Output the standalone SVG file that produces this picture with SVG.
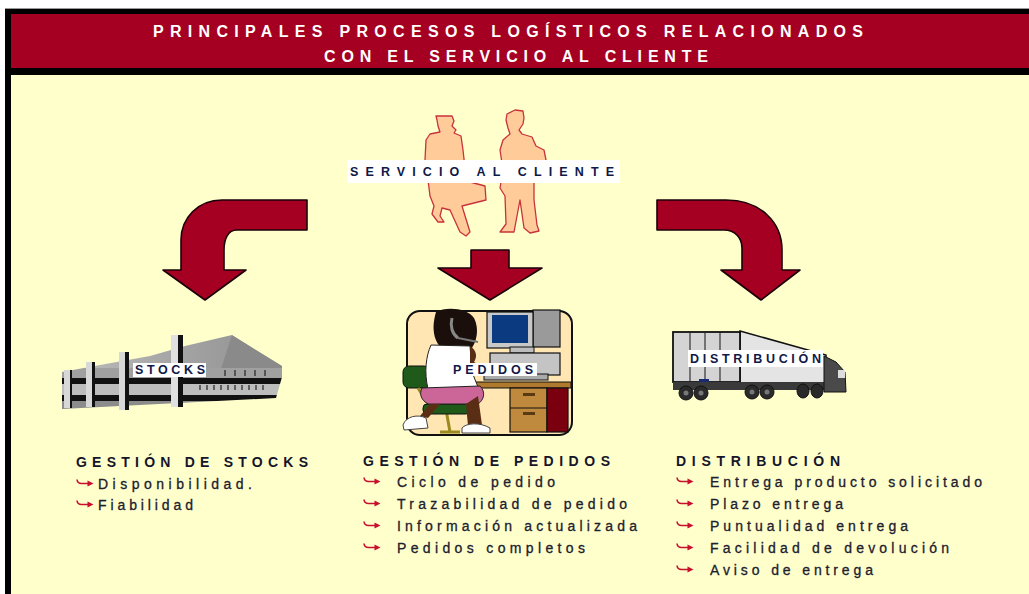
<svg xmlns="http://www.w3.org/2000/svg" xmlns:xlink="http://www.w3.org/1999/xlink" width="1029" height="594" viewBox="0 0 1029 594">
  <style>
    .hdr { font-family: "Liberation Sans Narrow", "Liberation Sans", Arial, sans-serif; font-weight: bold; font-size: 16px; fill: #ffffff; }
    .tag { font-family: "Liberation Sans", Arial, sans-serif; font-weight: bold; font-size: 12.5px; fill: #101848; }
    .ttl { font-family: "Liberation Sans", Arial, sans-serif; font-weight: bold; font-size: 14px; fill: #15152a; }
    .itm { font-family: "Liberation Sans", Arial, sans-serif; font-size: 14px; fill: #20202e; stroke: #20202e; stroke-width: 0.3; }
    .big-arrow { fill: #A50021; stroke: #1a0008; stroke-width: 1.6; stroke-linejoin: round; }
    .person { fill: #FFCC99; stroke: #C8323C; stroke-width: 1.3; stroke-linejoin: round; }
    .tagbox { fill: #ffffff; }
  </style>
  <defs>
    <!-- small red hooked bullet arrow -->
    <symbol id="hook" viewBox="0 0 18 9" width="18" height="9">
      <path d="M1,0.5 Q1.5,4.5 5.5,4.5 L12.5,4.5" fill="none" stroke="#C8102E" stroke-width="1.6"/>
      <polygon points="11.5,1.5 17.5,4.5 11.5,7.5" fill="#C8102E"/>
    </symbol>
    <clipPath id="bldClip">
      <polygon points="62,372 100,365 150,356 185,346 232,335 282,366 282,377 276,398 62,409"/>
    </clipPath>
    <linearGradient id="roofGrad" x1="0" y1="0" x2="1" y2="0">
      <stop offset="0" stop-color="#bdbdbd"/>
      <stop offset="1" stop-color="#8e8e8e"/>
    </linearGradient>
  </defs>

  <!-- frame -->
  <rect x="0" y="0" width="1029" height="594" fill="#ffffff"/>
  <line x1="5" y1="8.5" x2="1029" y2="8.5" stroke="#9a9a9a" stroke-width="1"/>
  <rect x="5" y="9" width="1024" height="585" fill="#000000"/>
  <rect x="11" y="14" width="1018" height="54" fill="#A50021"/>
  <rect x="11" y="75" width="1018" height="519" fill="#FFFFCC"/>

  <!-- header -->
  <g id="header">
    <text class="hdr" x="153" y="37" textLength="710" lengthAdjust="spacing">PRINCIPALES PROCESOS LOGÍSTICOS RELACIONADOS</text>
    <text class="hdr" x="324" y="62" textLength="384" lengthAdjust="spacing">CON EL SERVICIO AL CLIENTE</text>
  </g>

  <!-- customer service figures and label -->
  <g id="servicio-cliente">
    <path class="person" d="M436,116 L452,116 L454,121 L452,126 L456,130 L454,133 L461,136 L463,150 L465,168 L470,182 L485,186 L486,200 L462,206 L470,232 L466,236 L460,232 L450,210 L442,208 L440,216 L444,222 L438,222 L432,214 L434,206 L430,196 L428,180 L425,160 L426,140 L430,134 L440,132 L438,126 L437,120 Z"/>
    <path class="person" d="M507,114 L515,110 L523,111 L524,118 L523,124 L519,130 L522,134 L532,137 L536,146 L544,150 L546,160 L542,166 L537,166 L534,180 L534,200 L537,225 L539,231 L530,233 L524,228 L520,200 L514,232 L500,232 L506,224 L505,196 L500,188 L503,170 L500,150 L503,140 L510,134 L508,128 L506,120 Z"/>
    <rect class="tagbox" x="347" y="160" width="273" height="23"/>
    <text class="tag" x="350" y="176" textLength="264" lengthAdjust="spacing">SERVICIO AL CLIENTE</text>
  </g>

  <!-- connectors: the three red arrows -->
  <g id="connectors">
    <path class="big-arrow" d="M307,200 L222,200 C198,200 181,218 181,240 L181,270 L163,270 L205,300 L246,270 L224,270 L224,250 C224,239 228,230 237,230 L307,230 Z"/>
    <path class="big-arrow" d="M471,250 L509,250 L509,268 L542,268 L490,300 L438,268 L471,268 Z"/>
    <path class="big-arrow" d="M657,200 L726,200 C760,200 782,222 782,250 L782,270 L800,270 L761,300 L721,270 L742,270 L742,248 C742,238 735,230 724,230 L657,230 Z"/>
  </g>

  <!-- warehouse -->
  <g id="stocks">
    <g clip-path="url(#bldClip)">
      <rect x="60" y="330" width="225" height="38" fill="url(#roofGrad)"/>
      <polygon points="232,335 282,366 282,378 220,372" fill="#8a8a8a"/>
      <rect x="60" y="368" width="225" height="10" fill="#a0a0a0"/>
      <rect x="60" y="378" width="225" height="6" fill="#111111"/>
      <rect x="60" y="384" width="225" height="11" fill="#bdbdbd"/>
      <rect x="60" y="395" width="225" height="6" fill="#111111"/>
      <rect x="60" y="401" width="225" height="10" fill="#8c8c8c"/>
      <g stroke="#222" stroke-width="1.2">
        <line x1="200" y1="385" x2="200" y2="390"/><line x1="207" y1="385" x2="207" y2="390"/>
        <line x1="214" y1="385" x2="214" y2="390"/><line x1="221" y1="385" x2="221" y2="390"/>
        <line x1="228" y1="385" x2="228" y2="390"/><line x1="235" y1="385" x2="235" y2="390"/>
        <line x1="242" y1="385" x2="242" y2="390"/><line x1="249" y1="385" x2="249" y2="390"/>
        <line x1="256" y1="385" x2="256" y2="390"/><line x1="263" y1="385" x2="263" y2="390"/>
        <line x1="225" y1="370" x2="225" y2="376"/><line x1="235" y1="370" x2="235" y2="376"/>
        <line x1="245" y1="370" x2="245" y2="376"/><line x1="255" y1="370" x2="255" y2="376"/>
        <line x1="265" y1="370" x2="265" y2="376"/>
      </g>
    </g>
    <!-- pillars -->
    <rect x="64" y="370" width="6" height="38" fill="#d8d8d8"/><rect x="70" y="370" width="2" height="38" fill="#111"/>
    <rect x="86" y="362" width="6" height="45" fill="#d8d8d8"/><rect x="92" y="362" width="3" height="45" fill="#111"/>
    <rect x="119" y="352" width="6" height="58" fill="#d8d8d8"/><rect x="125" y="352" width="4" height="58" fill="#111"/>
    <rect x="171" y="335" width="7" height="72" fill="#e0e0e0"/><rect x="178" y="335" width="5" height="72" fill="#111"/>
    <rect class="tagbox" x="133" y="363" width="73" height="14"/>
    <text class="tag" x="135" y="374" textLength="70" lengthAdjust="spacing">STOCKS</text>
  </g>

  <!-- order desk -->
  <g id="pedidos">
    <rect x="407" y="311" width="165" height="124" rx="13" fill="#FFE6B3" stroke="#111" stroke-width="2"/>
    <!-- computer -->
    <rect x="533" y="310" width="27" height="37" fill="#9a9a9a" stroke="#111" stroke-width="1.2"/>
    <rect x="487" y="312" width="46" height="36" fill="#c8c8c8" stroke="#111" stroke-width="1.2"/>
    <rect x="492" y="315" width="36" height="28" fill="#0b3a80"/>
    <rect x="510" y="347" width="24" height="6" fill="#bdbdbd" stroke="#111" stroke-width="1"/>
    <rect x="490" y="353" width="70" height="22" fill="#c4c4c4" stroke="#111" stroke-width="1.2"/>
    <rect x="484" y="374" width="64" height="6" fill="#aaaaaa" stroke="#111" stroke-width="1"/>
    <!-- desk -->
    <rect x="468" y="382" width="103" height="6" fill="#B07A2E" stroke="#111" stroke-width="1"/>
    <rect x="510" y="388" width="37" height="44" fill="#C08A3E" stroke="#111" stroke-width="1.2"/>
    <line x1="510" y1="408" x2="547" y2="408" stroke="#111" stroke-width="1.2"/>
    <rect x="523" y="393" width="12" height="3" fill="#5a3a10"/>
    <rect x="523" y="412" width="12" height="3" fill="#5a3a10"/>
    <rect x="547" y="388" width="21" height="44" fill="#7a0010" stroke="#111" stroke-width="1.2"/>
    <!-- chair -->
    <rect x="403" y="366" width="27" height="22" rx="6" fill="#1f5a1a" stroke="#111" stroke-width="1"/>
    <path d="M418,388 L428,404 L445,404 L450,432 M440,432 L460,432" fill="none" stroke="#9a8a20" stroke-width="3"/>
    <rect x="423" y="404" width="47" height="10" rx="4" fill="#1f5a1a" stroke="#111" stroke-width="1"/>
    <!-- operator -->
    <path d="M436,312 C446,306 468,308 474,318 C480,330 476,344 470,350 L444,350 C436,345 430,332 436,312 Z" fill="#1a0f0a"/>
    <path d="M431,345 L470,346 L472,372 L478,387 L428,389 C424,372 426,356 431,345 Z" fill="#ffffff" stroke="#222" stroke-width="1"/>
    <path d="M470,346 C476,350 478,356 474,362 L488,370 L486,376 L470,370 Z" fill="#5a2e14"/>
    <path d="M422,388 L480,386 C486,392 484,400 478,404 L428,404 C421,400 419,394 422,388 Z" fill="#CC6699" stroke="#222" stroke-width="1"/>
    <path d="M478,396 L482,425 L468,426 L466,404 Z" fill="#5a2e14"/>
    <path d="M430,404 L440,404 L428,418 L420,416 Z" fill="#5a2e14"/>
    <path d="M403,425 C406,416 418,414 426,418 L428,428 L404,430 Z" fill="#ffffff" stroke="#444" stroke-width="1"/>
    <path d="M462,428 C466,423 480,422 490,428 L490,433 L462,433 Z" fill="#ffffff" stroke="#444" stroke-width="1"/>
    <path d="M452,318 C450,326 452,334 458,338" fill="none" stroke="#888" stroke-width="3"/>
    <path d="M458,338 L478,342" stroke="#777" stroke-width="2"/>
    <rect class="tagbox" x="450" y="363" width="87" height="13"/>
    <text class="tag" x="453" y="374" font-size="12" textLength="80" lengthAdjust="spacing">PEDIDOS</text>
  </g>

  <!-- truck -->
  <g id="distribucion">
    <polygon points="740,331 826,355 826,386 740,386" fill="#e4e4e4" stroke="#111" stroke-width="1.5"/>
    <rect x="673" y="332" width="67" height="50" fill="#d4d4d4" stroke="#111" stroke-width="1.8"/>
    <g stroke="#333" stroke-width="1.2">
      <line x1="690" y1="333" x2="690" y2="381"/>
      <line x1="705" y1="333" x2="705" y2="381"/>
      <line x1="720" y1="333" x2="720" y2="381"/>
    </g>
    <rect x="699" y="379" width="10" height="4" fill="#1a2a70"/>
    <rect x="673" y="382" width="153" height="8" fill="#3a3a3a"/>
    <polygon points="824,356 836,362 845,372 846,392 824,392" fill="#4a4a4a" stroke="#111" stroke-width="1"/>
    <rect x="838" y="370" width="7" height="8" fill="#dddddd"/>
    <g fill="#2a2a2a" stroke="#111">
      <ellipse cx="686" cy="393" rx="7" ry="7"/>
      <ellipse cx="701" cy="393" rx="7" ry="7"/>
      <ellipse cx="752" cy="392" rx="7" ry="7"/>
      <ellipse cx="767" cy="392" rx="7" ry="7"/>
      <ellipse cx="803" cy="391" rx="6" ry="7"/>
      <ellipse cx="817" cy="391" rx="6" ry="7"/>
    </g>
    <g fill="#777">
      <circle cx="686" cy="393" r="2.5"/><circle cx="701" cy="393" r="2.5"/>
      <circle cx="752" cy="392" r="2.5"/><circle cx="767" cy="392" r="2.5"/>
    </g>
    <rect class="tagbox" x="688" y="350" width="135" height="17"/>
    <text class="tag" x="690" y="363" textLength="131" lengthAdjust="spacing">DISTRIBUCIÓN</text>
  </g>

  <!-- stock management list -->
  <g id="gestion-stocks">
    <text class="ttl" x="76" y="467" textLength="232" lengthAdjust="spacing">GESTIÓN DE STOCKS</text>
    <use xlink:href="#hook" x="76" y="479"/>
    <text class="itm" x="98" y="489" textLength="154" lengthAdjust="spacing">Disponibilidad.</text>
    <use xlink:href="#hook" x="76" y="500"/>
    <text class="itm" x="98" y="510" textLength="95" lengthAdjust="spacing">Fiabilidad</text>
  </g>

  <!-- order management list -->
  <g id="gestion-pedidos">
    <text class="ttl" x="363" y="466" textLength="247" lengthAdjust="spacing">GESTIÓN DE PEDIDOS</text>
    <use xlink:href="#hook" x="363" y="477"/>
    <text class="itm" x="397" y="487" textLength="158" lengthAdjust="spacing">Ciclo de pedido</text>
    <use xlink:href="#hook" x="363" y="499"/>
    <text class="itm" x="397" y="509" textLength="230" lengthAdjust="spacing">Trazabilidad de pedido</text>
    <use xlink:href="#hook" x="363" y="521"/>
    <text class="itm" x="397" y="531" textLength="240" lengthAdjust="spacing">Información actualizada</text>
    <use xlink:href="#hook" x="363" y="543"/>
    <text class="itm" x="397" y="553" textLength="188" lengthAdjust="spacing">Pedidos completos</text>
  </g>

  <!-- distribution list -->
  <g id="gestion-distribucion">
    <text class="ttl" x="676" y="466" textLength="164" lengthAdjust="spacing">DISTRIBUCIÓN</text>
    <use xlink:href="#hook" x="676" y="477"/>
    <text class="itm" x="710" y="487" textLength="272" lengthAdjust="spacing">Entrega producto solicitado</text>
    <use xlink:href="#hook" x="676" y="499"/>
    <text class="itm" x="710" y="509" textLength="133" lengthAdjust="spacing">Plazo entrega</text>
    <use xlink:href="#hook" x="676" y="521"/>
    <text class="itm" x="710" y="531" textLength="198" lengthAdjust="spacing">Puntualidad entrega</text>
    <use xlink:href="#hook" x="676" y="543"/>
    <text class="itm" x="710" y="553" textLength="239" lengthAdjust="spacing">Facilidad de devolución</text>
    <use xlink:href="#hook" x="676" y="565"/>
    <text class="itm" x="710" y="575" textLength="163" lengthAdjust="spacing">Aviso de entrega</text>
  </g>
</svg>
